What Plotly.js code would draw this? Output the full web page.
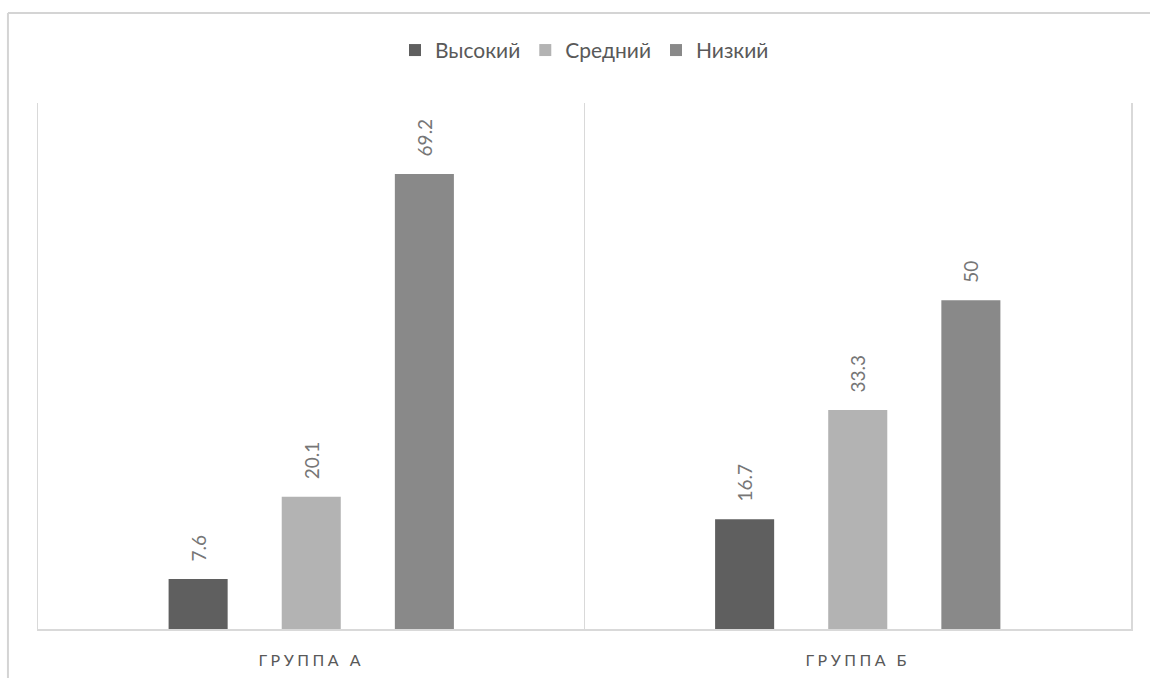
<!DOCTYPE html>
<html>
<head>
<meta charset="utf-8">
<script src="https://cdn.plot.ly/plotly-3.0.1.min.js"></script>
<style>
html,body{margin:0;padding:0;background:#fff;}
#chart{width:1150px;height:678px;}
.xtick text{letter-spacing:3.5px;}
</style>
</head>
<body>
<div id="chart"></div>
<script>
const categories = ['ГРУППА А', 'ГРУППА Б'];
const seriesNames = ['Высокий', 'Средний', 'Низкий'];
const high = [7.6, 16.7];
const mid = [20.1, 33.3];
const low = [69.2, 50];
const colors = ['#5f5f5f', '#b3b3b3', '#898989'];

const values = [high, mid, low];
const traces = values.map((v, i) => ({
  type: 'bar',
  name: seriesNames[i],
  x: categories,
  y: v,
  marker: {color: colors[i]},
  text: v.map(String),
  texttemplate: '\u00a0\u00a0\u00a0%{text}',
  textposition: 'outside',
  textangle: -90,
  constraintext: 'none',
  cliponaxis: false,
  textfont: {family: 'Lato, "Open Sans", sans-serif', size: 19, color: '#767676'},
  hoverinfo: 'skip'
}));

const layout = {
  width: 1150,
  height: 678,
  margin: {l: 38, r: 19, t: 103, b: 49},
  paper_bgcolor: '#ffffff',
  plot_bgcolor: '#ffffff',
  barmode: 'group',
  bargap: 0.379,
  bargroupgap: 0.478,
  font: {family: 'Lato, "Open Sans", sans-serif', color: '#595959'},
  showlegend: true,
  legend: {
    orientation: 'h',
    x: 0.5, xanchor: 'center',
    y: 1.1, yanchor: 'middle',
    font: {size: 21, color: '#595959'},
    itemwidth: 30,
    traceorder: 'normal'
  },
  xaxis: {
    type: 'category',
    tickson: 'boundaries',
    showgrid: true,
    gridcolor: '#d9d9d9',
    gridwidth: 1.5,
    showline: true,
    linecolor: '#d9d9d9',
    linewidth: 1.5,
    ticks: '',
    tickfont: {size: 16, color: '#595959'},
    ticklabelstandoff: 16,
    zeroline: false,
    fixedrange: true
  },
  yaxis: {
    range: [0, 80],
    showgrid: false,
    showticklabels: false,
    showline: true,
    mirror: true,
    linecolor: '#d9d9d9',
    linewidth: 1.5,
    zeroline: false,
    ticks: '',
    fixedrange: true
  },
  shapes: [
    {type: 'line', xref: 'paper', yref: 'paper', x0: -0.0275, x1: -0.0275, y0: 1.171, y1: -0.2,
     line: {color: '#d4d4d4', width: 2}},
    {type: 'line', xref: 'paper', yref: 'paper', x0: -0.0275, x1: 1.05, y0: 1.171, y1: 1.171,
     line: {color: '#d4d4d4', width: 2}}
  ]
};

Plotly.newPlot('chart', traces, layout, {displayModeBar: false, staticPlot: true});
</script>
</body>
</html>
